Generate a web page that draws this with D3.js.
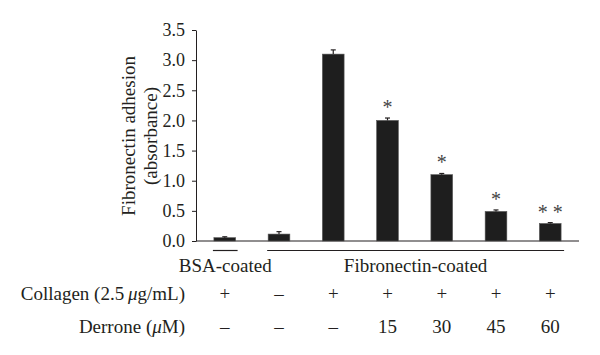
<!DOCTYPE html>
<html>
<head>
<meta charset="utf-8">
<script src="https://cdn.jsdelivr.net/npm/d3@7"></script>
<style>
  html, body { margin: 0; padding: 0; background: #fff; }
  svg { display: block; }
</style>
</head>
<body>
<svg id="chart" width="600" height="355" font-family="'Liberation Serif', 'Times New Roman', Times, 'DejaVu Serif', serif"></svg>
<script>
// ---- data ----
const categories = ["c1", "c2", "c3", "c4", "c5", "c6", "c7"];
const adhesion = [0.055, 0.115, 3.10, 2.00, 1.10, 0.49, 0.29];
const errors = [0.015, 0.04, 0.07, 0.04, 0.02, 0.025, 0.015];
const significance = ["", "", "", "*", "*", "*", "* *"];
const collagenRow = ["+", "\u2013", "+", "+", "+", "+", "+"];
const derroneRow = ["\u2013", "\u2013", "\u2013", "15", "30", "45", "60"];
const yTicks = [0, 0.5, 1.0, 1.5, 2.0, 2.5, 3.0, 3.5];
const groups = [
  { label: "BSA-coated", from: "c1", to: "c1" },
  { label: "Fibronectin-coated", from: "c2", to: "c7" }
];

// ---- layout ----
const FONT = "'Liberation Serif', 'Times New Roman', Times, 'DejaVu Serif', serif";
const svg = d3.select("#chart");
const x = d3.scaleBand().domain(categories).range([196, 579]).paddingInner(0.6).paddingOuter(0.33);
const y = d3.scaleLinear().domain([0, 3.5]).range([241, 30]);
const ink = "#231f20";

// y axis
const yAxis = svg.append("g")
  .attr("transform", `translate(${x.range()[0]},0)`)
  .call(d3.axisLeft(y).tickValues(yTicks).tickFormat(d3.format(".1f")).tickSize(4).tickSizeOuter(0).tickPadding(7));
yAxis.attr("font-family", FONT).attr("font-size", 18);
yAxis.select(".domain").attr("stroke", ink).attr("stroke-width", 1);
yAxis.selectAll(".tick line").attr("stroke", ink);
yAxis.selectAll(".tick text").attr("fill", ink);

// x axis line
svg.append("line")
  .attr("x1", x.range()[0]).attr("x2", x.range()[1])
  .attr("y1", y(0)).attr("y2", y(0))
  .attr("stroke", ink).attr("stroke-width", 1.2);

// bars
svg.append("g").selectAll("rect").data(categories).join("rect")
  .attr("x", d => x(d))
  .attr("width", x.bandwidth())
  .attr("y", (d, i) => y(adhesion[i]))
  .attr("height", (d, i) => y(0) - y(adhesion[i]))
  .attr("fill", "#1e1e1e")
  .attr("stroke", "#555")
  .attr("stroke-width", 0.6);

// error bars
const eb = svg.append("g").attr("stroke", ink).attr("stroke-width", 1.2);
categories.forEach((c, i) => {
  const cx = x(c) + x.bandwidth() / 2;
  eb.append("line").attr("x1", cx).attr("x2", cx)
    .attr("y1", y(adhesion[i])).attr("y2", y(adhesion[i] + errors[i]));
  eb.append("line").attr("x1", cx - 2.5).attr("x2", cx + 2.5)
    .attr("y1", y(adhesion[i] + errors[i])).attr("y2", y(adhesion[i] + errors[i]));
});

// significance stars
svg.append("g").selectAll("text").data(categories).join("text")
  .attr("x", d => x(d) + x.bandwidth() / 2)
  .attr("y", (d, i) => y(adhesion[i] + errors[i]) - 4)
  .attr("text-anchor", "middle")
  .attr("font-size", 20)
  .attr("fill", "#444")
  .style("white-space", "pre")
  .text((d, i) => significance[i]);

// y-axis title
const yt = svg.append("g").attr("transform", "translate(0,136) rotate(-90)");
yt.append("text").attr("x", 0).attr("y", 128).attr("text-anchor", "middle").attr("fill", ink)
  .attr("dominant-baseline", "central").attr("font-size", 19).text("Fibronectin adhesion");
yt.append("text").attr("x", 0).attr("y", 150).attr("text-anchor", "middle").attr("fill", ink)
  .attr("dominant-baseline", "central").attr("font-size", 19).text("(absorbance)");

// group lines and labels
groups.forEach(g => {
  const x1 = x(g.from), x2 = x(g.to) + x.bandwidth();
  const lx1 = x1 - 1;
  const lx2 = g.from === g.to ? x2 + 2 : x2 + 3;
  svg.append("line").attr("x1", lx1).attr("x2", lx2).attr("y1", 250.5).attr("y2", 250.5)
    .attr("stroke", ink).attr("stroke-width", 1.2);
  svg.append("text").attr("x", (lx1 + lx2) / 2).attr("y", 272).attr("fill", ink)
    .attr("text-anchor", "middle").attr("font-size", 19).text(g.label);
});

// row labels
const rowLabelX = 185;
const collagenLabel = svg.append("text").attr("x", rowLabelX).attr("y", 300).attr("fill", ink)
  .attr("text-anchor", "end").attr("font-size", 19);
collagenLabel.append("tspan").text("Collagen (2.5\u2009");
collagenLabel.append("tspan").attr("font-style", "italic").text("\u03bc");
collagenLabel.append("tspan").text("g/mL)");

const derroneLabel = svg.append("text").attr("x", rowLabelX).attr("y", 333).attr("fill", ink)
  .attr("text-anchor", "end").attr("font-size", 19);
derroneLabel.append("tspan").text("Derrone (");
derroneLabel.append("tspan").attr("font-style", "italic").text("\u03bc");
derroneLabel.append("tspan").text("M)");

// row values
svg.append("g").selectAll("text").data(categories).join("text")
  .attr("x", d => x(d) + x.bandwidth() / 2)
  .attr("y", 300).attr("fill", ink)
  .attr("text-anchor", "middle").attr("font-size", 19)
  .text((d, i) => collagenRow[i]);
svg.append("g").selectAll("text").data(categories).join("text")
  .attr("x", d => x(d) + x.bandwidth() / 2)
  .attr("y", 333).attr("fill", ink)
  .attr("text-anchor", "middle").attr("font-size", 19)
  .text((d, i) => derroneRow[i]);
</script>
</body>
</html>
